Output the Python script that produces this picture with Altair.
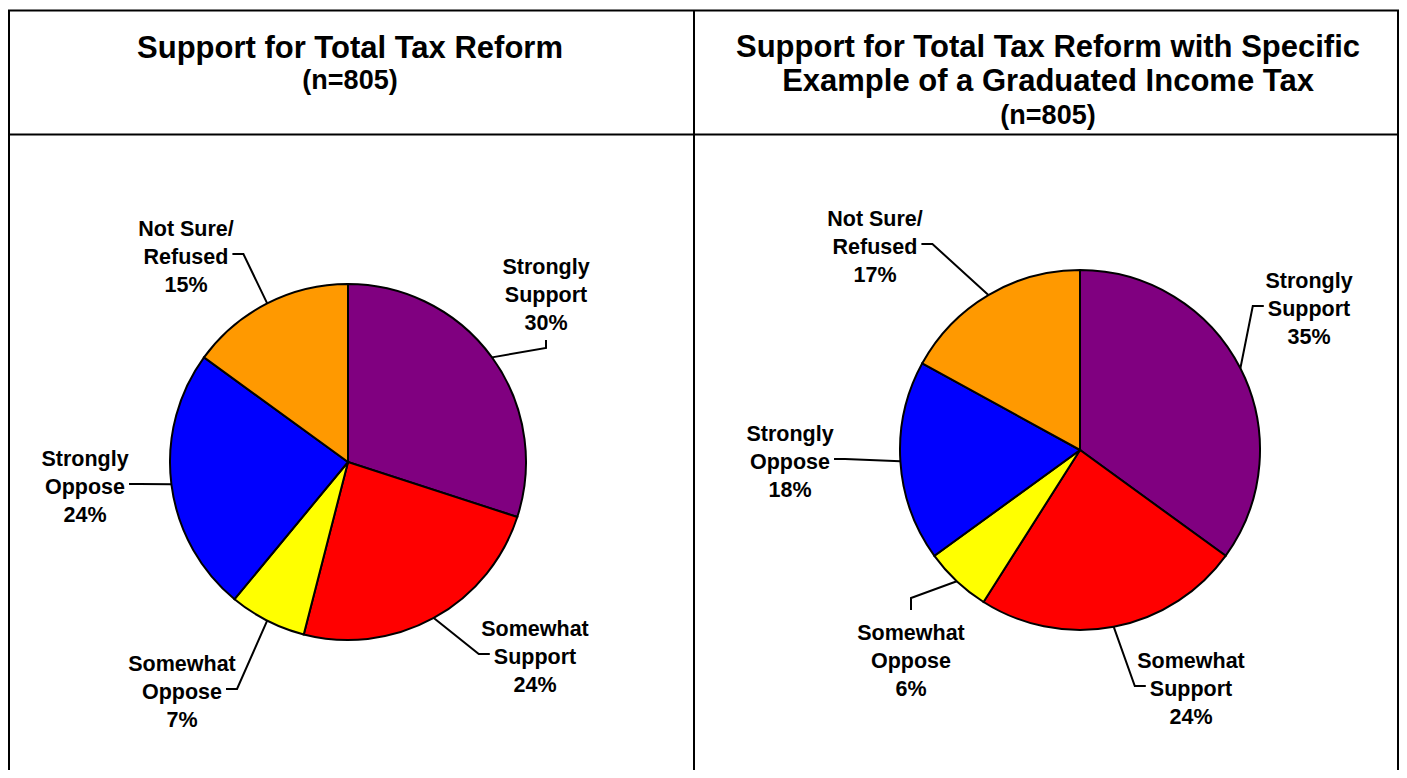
import math
import altair as alt
import pandas as pd

# ---------------- data ----------------
CATEGORIES = ["Strongly Support", "Somewhat Support", "Somewhat Oppose",
              "Strongly Oppose", "Not Sure/Refused"]
LABEL_NAMES = [["Strongly", "Support"], ["Somewhat", "Support"], ["Somewhat", "Oppose"],
               ["Strongly", "Oppose"], ["Not Sure/", "Refused"]]
COLORS = ["#800080", "#FF0000", "#FFFF00", "#0000FF", "#FF9900"]
VALUES_TOTAL = [30, 24, 7, 24, 15]
VALUES_GRADUATED = [35, 24, 6, 18, 17]
TITLE_LEFT = ["Support for Total Tax Reform", "(n=805)"]
TITLE_RIGHT = ["Support for Total Tax Reform with Specific",
               "Example of a Graduated Income Tax", "(n=805)"]

# ---------------- layout (page pixels) ----------------
M = 8  # page margin
W, H = 1391, 762
LABEL_SIZE = 21.5
LINE_H = 28
TITLE_FONT = "Liberation Sans"
LABEL_FONT = "Liberation Sans"

PIES = [
    dict(values=VALUES_TOTAL, cx=348, cy=462, r=178,
         label_dx=[198, 187, -166, -263, -162], label_dy=[-166, 196, 231, 26, -204],
         sides=["B", "L", "R", "R", "R"]),
    dict(values=VALUES_GRADUATED, cx=1080, cy=450, r=180,
         label_dx=[229, 111, -169, -290, -205], label_dy=[-140, 240, 212, 13, -202],
         sides=["L", "L", "T", "R", "R"]),
]

# Arial-bold advance widths (per 1000 em) for label width estimates
CW = {"a": 556, "b": 611, "c": 556, "d": 611, "e": 556, "f": 333, "g": 611, "h": 611,
      "i": 278, "l": 278, "m": 889, "n": 611, "o": 611, "p": 611, "r": 389, "s": 556,
      "t": 333, "u": 611, "w": 778, "y": 556, "N": 722, "O": 778, "R": 722, "S": 667,
      " ": 278, "/": 278, "%": 889}


def text_w(s):
    return sum(CW.get(c, 556) for c in s) / 1000 * LABEL_SIZE


layers = []

# ---------------- borders ----------------
BORDERS = [  # x, y, x2, y2 in page px
    (6, 10.5, 1400, 10.5),
    (9, 10, 9, 800),
    (1398, 10, 1398, 800),
    (694, 10, 694, 800),
    (6, 134.5, 1400, 134.5),
]
bdf = pd.DataFrame([dict(x=a - M, y=b - M, x2=c - M, y2=d - M) for a, b, c, d in BORDERS])
layers.append(
    alt.Chart(bdf).mark_rule(color="black", strokeWidth=2).encode(
        x=alt.X("x:Q", scale=None, axis=None), y=alt.Y("y:Q", scale=None, axis=None),
        x2="x2:Q", y2="y2:Q")
)

# ---------------- titles ----------------
TITLE_POS = [  # (text, x, y, size)
    (TITLE_LEFT[0], 350, 49, 31), (TITLE_LEFT[1], 350, 81, 27),
    (TITLE_RIGHT[0], 1048, 48, 31), (TITLE_RIGHT[1], 1048, 82, 31), (TITLE_RIGHT[2], 1048, 116, 27),
]
for txt, tx, ty, ts in TITLE_POS:
    layers.append(
        alt.Chart(pd.DataFrame({"t": [txt]})).mark_text(
            font=TITLE_FONT, fontWeight="bold", fontSize=ts, color="black",
            align="center", baseline="middle").encode(
            text="t:N", x=alt.value(tx - M), y=alt.value(ty - M))
    )

# ---------------- pies, labels, leaders ----------------
for p in PIES:
    vals = p["values"]
    df = pd.DataFrame({"category": CATEGORIES, "value": vals, "order": range(len(vals))})
    layers.append(
        alt.Chart(df).mark_arc(stroke="black", strokeWidth=2).encode(
            theta=alt.Theta("value:Q", stack=True),
            order=alt.Order("order:Q"),
            color=alt.Color("category:N", scale=alt.Scale(domain=CATEGORIES, range=COLORS), legend=None),
            x=alt.value(p["cx"] - M), y=alt.value(p["cy"] - M),
            radius=alt.value(p["r"]),
        )
    )

    total = sum(vals)
    cum = 0
    lab_rows, line_rows = [], []
    for i, v in enumerate(vals):
        a = (cum + v / 2) / total * 2 * math.pi
        cum += v
        cx, cy, r = p["cx"], p["cy"], p["r"]
        ex, ey = cx + r * math.sin(a), cy - r * math.cos(a)
        lx, ly = cx + p["label_dx"][i], cy + p["label_dy"][i]
        lines = LABEL_NAMES[i] + [f"{v}%"]
        # first line sits at y; shift so the middle line is at ly
        lab_rows.append(dict(t="\n".join(lines), x=lx - M, y=ly - LINE_H - M))
        hw = text_w(lines[1]) / 2
        side = p["sides"][i]
        if side == "R":
            T = (lx + hw + 4, ly - 4); E = (T[0] + 11, T[1])
        elif side == "L":
            T = (lx - hw - 4, ly - 4); E = (T[0] - 11, T[1])
        elif side == "T":
            T = (lx, ly - 52); E = (lx, T[1] - 12)
        else:
            T = (lx, ly + 44); E = (lx, T[1] + 8)
        for k, (qx, qy) in enumerate([(ex, ey), E, T]):
            line_rows.append(dict(key=f"{i}", k=k, x=qx - M, y=qy - M))

    layers.append(
        alt.Chart(pd.DataFrame(line_rows)).mark_line(color="black", strokeWidth=2).encode(
            x=alt.X("x:Q", scale=None, axis=None), y=alt.Y("y:Q", scale=None, axis=None),
            detail="key:N", order="k:Q")
    )
    layers.append(
        alt.Chart(pd.DataFrame(lab_rows)).mark_text(
            font=LABEL_FONT, fontWeight="bold", fontSize=LABEL_SIZE, color="black",
            align="center", baseline="middle", lineBreak="\n", lineHeight=LINE_H).encode(
            text="t:N",
            x=alt.X("x:Q", scale=None, axis=None), y=alt.Y("y:Q", scale=None, axis=None))
    )

chart = alt.layer(*layers).resolve_scale(theta="independent").properties(
    width=W, height=H, padding=0, autosize=alt.AutoSizeParams(type="none"),
    background="white",
).configure_view(stroke=None)

chart.save("out.html", embed_options={"renderer": "svg", "actions": False})
